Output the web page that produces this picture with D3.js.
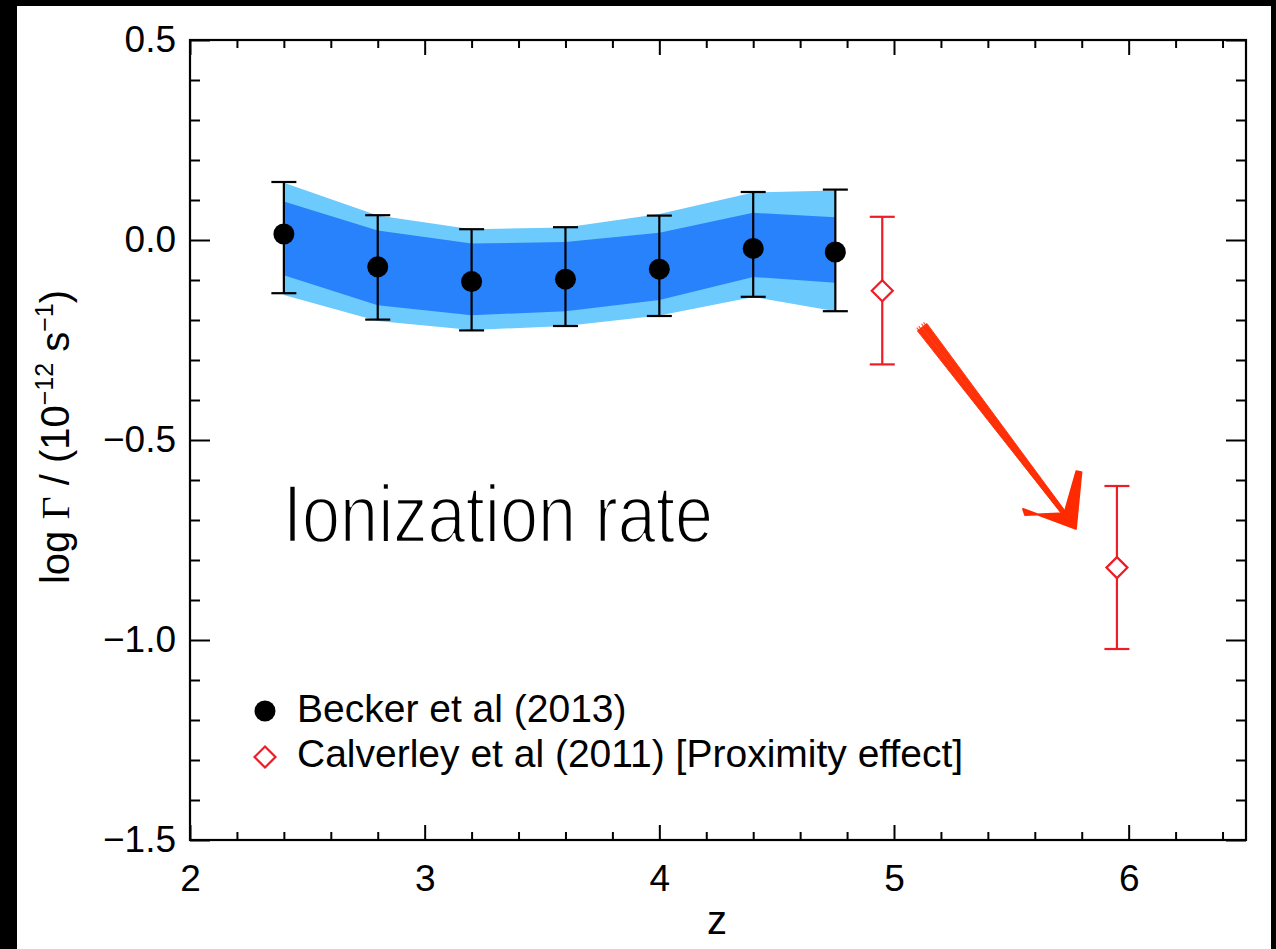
<!DOCTYPE html>
<html>
<head>
<meta charset="utf-8">
<script src="https://cdn.jsdelivr.net/npm/d3@7/dist/d3.min.js"></script>
<style>
  html, body { margin: 0; padding: 0; background: #000; }
  svg { display: block; }
  text { font-family: "Liberation Sans", Arial, Helvetica, sans-serif; fill: #000; }
</style>
</head>
<body>
<script>
// Becker et al (2013): photoionization rate measurements with 1σ / 2σ bands
const zBecker      = [2.4, 2.8, 3.2, 3.6, 4.0, 4.4, 4.75];
const logGBecker   = [0.015, -0.067, -0.104, -0.098, -0.073, -0.021, -0.030];
const errHiBecker  = [0.145, 0.062, 0.027, 0.032, 0.061, 0.120, 0.126];
const errLoBecker  = [-0.133, -0.199, -0.226, -0.215, -0.190, -0.142, -0.178];
const bandOuterHi  = [0.143, 0.061, 0.027, 0.031, 0.065, 0.119, 0.124];
const bandInnerHi  = [0.096, 0.024, -0.009, -0.005, 0.018, 0.068, 0.057];
const bandInnerLo  = [-0.088, -0.163, -0.188, -0.178, -0.150, -0.0925, -0.107];
const bandOuterLo  = [-0.1375, -0.2025, -0.225, -0.215, -0.189, -0.1425, -0.178];

// Calverley et al (2011): proximity-effect measurements
const zCalv     = [4.95, 5.95];
const logGCalv  = [-0.127, -0.819];
const errHiCalv = [0.058, -0.615];
const errLoCalv = [-0.311, -1.0225];

// Axis ticks
const xMajorTicks = [2, 3, 4, 5, 6];
const xTickLabels = ["2", "3", "4", "5", "6"];
const yMajorTicks = [0.5, 0.0, -0.5, -1.0, -1.5];
const yTickLabels = ["0.5", "0.0", "\u22120.5", "\u22121.0", "\u22121.5"];

// Legend entries
const legendLabels = ["Becker et al (2013)", "Calverley et al (2011) [Proximity effect]"];

// Hand-drawn arrow annotation, in data units (z, log Γ)
const arrowStart = [5.12, -0.218];
const arrowTip   = [5.775, -0.722];
const arrowBarbA = [5.55, -0.68];
const arrowBarbB = [5.79, -0.578];

const W = 1276, H = 949;
const x0 = 190, x1 = 1246, y0 = 40, y1 = 840;

const svg = d3.select("body").append("svg")
  .attr("width", W).attr("height", H);

// page: black edges around a white sheet
svg.append("rect").attr("x", 0).attr("y", 0).attr("width", W).attr("height", H).attr("fill", "#000");
svg.append("rect").attr("x", 17).attr("y", 6).attr("width", 1254).attr("height", H - 6).attr("fill", "#fff");

const x = d3.scaleLinear().domain([2, 6.5]).range([x0, x1]);
const y = d3.scaleLinear().domain([-1.5, 0.5]).range([y1, y0]);

const xMinor = d3.range(2, 6.5001, 0.2).map(v => +v.toFixed(2)).filter(v => !xMajorTicks.some(m => Math.abs(m - v) < 1e-6));
const yMinor = d3.range(-1.5, 0.5001, 0.1).map(v => +v.toFixed(2)).filter(v => !yMajorTicks.some(m => Math.abs(m - v) < 1e-6));

const tickStyle = g => {
  g.select(".domain").remove();
  g.selectAll(".tick line").attr("stroke", "#000").attr("stroke-width", 2);
  g.selectAll(".tick text").attr("font-size", 37).attr("fill", "#000")
    .attr("font-family", "'Liberation Sans', Arial, sans-serif");
};

// bottom axis (with labels)
svg.append("g").attr("transform", `translate(0,${y1})`)
  .call(d3.axisBottom(x).tickValues(xMajorTicks).tickSizeInner(-15).tickSizeOuter(0).tickPadding(25)
    .tickFormat((d, i) => xTickLabels[i]))
  .call(tickStyle);
svg.append("g").attr("transform", `translate(0,${y1})`)
  .call(d3.axisBottom(x).tickValues(xMinor).tickSizeInner(-8).tickSizeOuter(0).tickFormat(""))
  .call(tickStyle);
// top axis (mirrored ticks)
svg.append("g").attr("transform", `translate(0,${y0})`)
  .call(d3.axisTop(x).tickValues(xMajorTicks).tickSizeInner(-15).tickSizeOuter(0).tickFormat(""))
  .call(tickStyle);
svg.append("g").attr("transform", `translate(0,${y0})`)
  .call(d3.axisTop(x).tickValues(xMinor).tickSizeInner(-8).tickSizeOuter(0).tickFormat(""))
  .call(tickStyle);
// left axis (with labels)
svg.append("g").attr("transform", `translate(${x0},0)`)
  .call(d3.axisLeft(y).tickValues(yMajorTicks).tickSizeInner(-20).tickSizeOuter(0).tickPadding(14)
    .tickFormat((d, i) => yTickLabels[i]))
  .call(tickStyle);
svg.append("g").attr("transform", `translate(${x0},0)`)
  .call(d3.axisLeft(y).tickValues(yMinor).tickSizeInner(-10).tickSizeOuter(0).tickFormat(""))
  .call(tickStyle);
// right axis (mirrored ticks)
svg.append("g").attr("transform", `translate(${x1},0)`)
  .call(d3.axisRight(y).tickValues(yMajorTicks).tickSizeInner(-20).tickSizeOuter(0).tickFormat(""))
  .call(tickStyle);
svg.append("g").attr("transform", `translate(${x1},0)`)
  .call(d3.axisRight(y).tickValues(yMinor).tickSizeInner(-10).tickSizeOuter(0).tickFormat(""))
  .call(tickStyle);

// plot frame
svg.append("rect").attr("x", x0).attr("y", y0).attr("width", x1 - x0).attr("height", y1 - y0)
  .attr("fill", "none").attr("stroke", "#000").attr("stroke-width", 2.2);

// confidence bands
const becker = zBecker.map((z, i) => ({
  z, g: logGBecker[i], hi: errHiBecker[i], lo: errLoBecker[i],
  oHi: bandOuterHi[i], iHi: bandInnerHi[i], iLo: bandInnerLo[i], oLo: bandOuterLo[i]
}));
svg.append("path").datum(becker)
  .attr("d", d3.area().x(d => x(d.z)).y0(d => y(d.oLo)).y1(d => y(d.oHi)))
  .attr("fill", "#6dcafc");
svg.append("path").datum(becker)
  .attr("d", d3.area().x(d => x(d.z)).y0(d => y(d.iLo)).y1(d => y(d.iHi)))
  .attr("fill", "#2782fc");

// error bars
function errorBars(data, color) {
  const g = svg.append("g").attr("stroke", color).attr("stroke-width", 2.2).attr("fill", "none");
  const cap = 12.5;
  data.forEach(d => {
    g.append("line").attr("x1", x(d.z)).attr("x2", x(d.z)).attr("y1", y(d.hi)).attr("y2", y(d.lo));
    g.append("line").attr("x1", x(d.z) - cap).attr("x2", x(d.z) + cap).attr("y1", y(d.hi)).attr("y2", y(d.hi));
    g.append("line").attr("x1", x(d.z) - cap).attr("x2", x(d.z) + cap).attr("y1", y(d.lo)).attr("y2", y(d.lo));
  });
}
errorBars(becker, "#000");

svg.append("g").selectAll("circle").data(becker).join("circle")
  .attr("cx", d => x(d.z)).attr("cy", d => y(d.g)).attr("r", 10.5).attr("fill", "#000");

const calv = zCalv.map((z, i) => ({ z, g: logGCalv[i], hi: errHiCalv[i], lo: errLoCalv[i] }));
errorBars(calv, "#ee1c24");

const diamond = (cx, cy, s) => `M${cx},${cy - s}L${cx + s},${cy}L${cx},${cy + s}L${cx - s},${cy}Z`;
svg.append("g").selectAll("path").data(calv).join("path")
  .attr("d", d => diamond(x(d.z), y(d.g), 10.5))
  .attr("fill", "#fff").attr("stroke", "#ee1c24").attr("stroke-width", 2.2);

// hand-drawn arrow
{
  const [sx, sy] = [x(arrowStart[0]), y(arrowStart[1])];
  const [tx, ty] = [x(arrowTip[0]), y(arrowTip[1])];
  const [ax, ay] = [x(arrowBarbA[0]), y(arrowBarbA[1])];
  const [bx, by] = [x(arrowBarbB[0]), y(arrowBarbB[1])];
  const dx = tx - sx, dy = ty - sy, len = Math.hypot(dx, dy);
  const ux = dx / len, uy = dy / len, nx = -uy, ny = ux;
  const g = svg.append("g").attr("fill", "#ff2a00").attr("stroke", "#ff2a00");
  // tapered shaft
  const ex = tx - ux * 18, ey = ty - uy * 18;
  const w0 = 6, w1 = 2.2;
  g.append("path")
    .attr("d", `M${sx + nx * w0},${sy + ny * w0}L${ex + nx * w1},${ey + ny * w1}L${ex - nx * w1},${ey - ny * w1}L${sx - nx * w0},${sy - ny * w0}Z`)
    .attr("stroke-width", 1).attr("stroke-linejoin", "round").attr("opacity", 0.92);
  // sketchy strokes along the shaft
  [-4, -1.5, 2, 4.5].forEach(o => {
    g.append("line")
      .attr("x1", sx + nx * o - ux * 3).attr("y1", sy + ny * o - uy * 3)
      .attr("x2", ex + nx * o * 0.4).attr("y2", ey + ny * o * 0.4)
      .attr("stroke-width", 1.2).attr("opacity", 0.8);
  });
  // arrow head
  const mx = tx - ux * 14 + (ax + bx - 2 * tx) * 0.06, my = ty - uy * 14 + (ay + by - 2 * ty) * 0.06;
  g.append("path")
    .attr("d", `M${tx},${ty}L${ax},${ay - 3}L${ax + 2},${ay + 3}L${mx},${my}L${bx - 3},${by}L${bx + 2},${by + 1}Z`)
    .attr("stroke-width", 2).attr("stroke-linejoin", "round");
}

// annotation text, drawn in a light weight (white outline thins the strokes)
svg.append("text").attr("x", 283).attr("y", 542)
  .attr("font-family", "'Liberation Sans', Arial, sans-serif")
  .attr("font-size", 81).attr("textLength", 430).attr("lengthAdjust", "spacingAndGlyphs")
  .attr("stroke", "#fff").attr("stroke-width", 2.3).attr("paint-order", "fill")
  .attr("stroke-linejoin", "round")
  .text("Ionization rate");

// legend
const lg = svg.append("g");
lg.append("circle").attr("cx", 265).attr("cy", 711).attr("r", 10.5).attr("fill", "#000");
lg.append("path").attr("d", diamond(265, 757, 10.5)).attr("fill", "#fff")
  .attr("stroke", "#ee1c24").attr("stroke-width", 2.2);
lg.selectAll("text").data(legendLabels).join("text")
  .attr("x", 297).attr("y", (d, i) => 722 + i * 45)
  .attr("font-size", 39).text(d => d);

// axis titles
svg.append("text").attr("x", 717).attr("y", 934).attr("text-anchor", "middle")
  .attr("font-size", 40).text("z");

const yl = svg.append("text").attr("transform", "translate(69,437) rotate(-90)")
  .attr("text-anchor", "middle").attr("font-size", 40);
yl.append("tspan").text("log ");
yl.append("tspan").attr("font-family", "'Liberation Serif', 'DejaVu Serif', serif").text("\u0393");
yl.append("tspan").text(" / (10");
yl.append("tspan").attr("font-size", 25).attr("dy", -16).text("\u221212");
yl.append("tspan").attr("dy", 16).text(" s");
yl.append("tspan").attr("font-size", 25).attr("dy", -16).text("\u22121");
yl.append("tspan").attr("dy", 16).text(")");
</script>
</body>
</html>
